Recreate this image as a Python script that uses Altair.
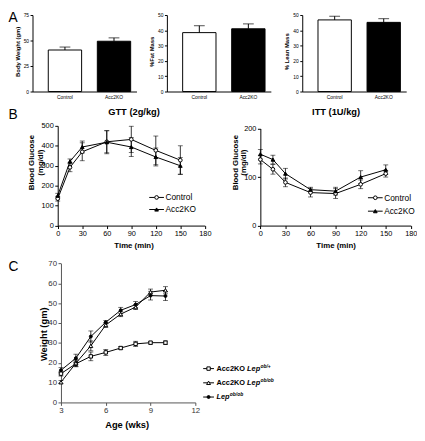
import altair as alt
import pandas as pd

# ---------------- data ----------------
A_GROUPS = ["Control", "Acc2KO"]
BODY_WEIGHT = [40.7, 49.3]
BODY_WEIGHT_SEM = [2.9, 3.3]
FAT_MASS = [38.5, 41.0]
FAT_MASS_SEM = [4.5, 3.2]
LEAN_MASS = [46.8, 45.2]
LEAN_MASS_SEM = [2.4, 2.4]

B_SERIES = ["Control", "Acc2KO"]
GTT_TIME = [0, 15, 30, 60, 90, 120, 150]
GTT_CONTROL = [135, 292, 370, 420, 432, 377, 328]
GTT_CONTROL_SEM = [12, 22, 45, 55, 66, 72, 72]
GTT_ACC2KO = [150, 322, 394, 418, 394, 344, 300]
GTT_ACC2KO_SEM = [12, 12, 30, 58, 48, 45, 42]

ITT_TIME = [0, 15, 30, 60, 90, 120, 150]
ITT_CONTROL = [136, 116, 89, 68, 66, 85, 107]
ITT_CONTROL_SEM = [9, 10, 9, 9, 10, 9, 7]
ITT_ACC2KO = [147, 136, 107, 74, 71, 100, 115]
ITT_ACC2KO_SEM = [10, 9, 11, 5, 8, 13, 10]

C_SERIES = ["Acc2KO Lep ob/+", "Acc2KO Lep ob/ob", "Lep ob/ob"]
C_PREFIX = ["Acc2KO ", "Acc2KO ", ""]
C_ITALIC = ["Lep", "Lep", "Lep"]
C_SUPER = ["ob/+", "ob/ob", "ob/ob"]
AGE_WKS = [3, 4, 5, 6, 7, 8, 9, 10]
C_KO_OBPLUS = [14.5, 19.5, 23.2, 25.2, 27.4, 29.5, 30.1, 30.1]
C_KO_OBPLUS_SEM = [1.2, 1.5, 2.2, 1.5, 0.8, 1.3, 0.7, 0.9]
C_KO_OBOB = [10.2, 19.8, 28.5, 39.0, 44.5, 48.0, 55.6, 56.5]
C_KO_OBOB_SEM = [0.8, 1.8, 2.5, 1.2, 1.3, 1.2, 1.5, 1.8]
C_OBOB = [16.2, 22.3, 33.2, 40.4, 46.4, 49.3, 53.8, 53.6]
C_OBOB_SEM = [1.3, 2.0, 2.8, 0.8, 1.5, 1.5, 2.2, 2.3]

PANEL_LETTERS = ["A", "B", "C"]
GTT_TITLE = "GTT (2g/kg)"
ITT_TITLE = "ITT (1U/kg)"

# ---------------- layout helpers ----------------
FONT = "Liberation Sans"
W, H = 417, 425


def cx(v):
    return v - 8


def ay(v):
    return v - 3


def by(v):
    return v - 8


def cy(v):
    return v - 11


def bar_panel(values, sems, ymax, ticks, title, x0, x1, tdx):
    df = pd.DataFrame({"group": A_GROUPS, "value": values, "sem": sems})
    df["hi"] = df["value"] + df["sem"]
    yr = [ay(84), ay(6)]
    xs = alt.Scale(domain=A_GROUPS, range=[cx(x0), cx(x1)], paddingInner=0.32,
                   paddingOuter=0.22, align=0.73)
    ys = alt.Scale(domain=[0, ymax], range=yr, nice=False, zero=True)
    xaxis = alt.Axis(orient="bottom", offset=yr[0] - H, title=None, ticks=False,
                     labelFontSize=5, labelPadding=3, labelAngle=0,
                     labelFlush=False, labelOverlap=False)
    yaxis = alt.Axis(orient="left", offset=-cx(x0), values=ticks, title=title,
                     labelFontSize=5, tickSize=2.5, labelPadding=1.5,
                     labelFlush=False, labelOverlap=False,
                     titleFontSize=6, titleFontWeight="bold", titleAngle=270,
                     titleAlign="center", titleBaseline="middle",
                     titleX=tdx, titleY=(yr[0] + yr[1]) / 2 - 2)
    base = alt.Chart(df)
    xenc = alt.X("group:N", scale=xs, sort=A_GROUPS, axis=xaxis)
    bars = base.mark_bar(stroke="black", strokeWidth=1).encode(
        x=xenc,
        y=alt.Y("value:Q", scale=ys, axis=yaxis),
        fill=alt.Fill("group:N", scale=alt.Scale(domain=A_GROUPS, range=["white", "black"]),
                      legend=None),
    )
    err = base.mark_rule(color="black", strokeWidth=1).encode(
        x=xenc, y=alt.Y("value:Q", scale=ys, axis=yaxis), y2="hi:Q")
    cap = base.mark_tick(color="black", thickness=1, size=11, orient="horizontal").encode(
        x=xenc, y=alt.Y("hi:Q", scale=ys, axis=yaxis))
    return alt.layer(bars, err, cap)


def line_panel(xs_data, series, vals, sems, xdom, xticks, ydom, yticks,
               xr, yr, ytitle, ytx, yty, xtitle, xtx, xty, markers,
               label_size=7.5, title_size=8, axis_color="black", label_color="black"):
    rows = []
    for s, v, e in zip(series, vals, sems):
        for t, vv, ee in zip(xs_data, v, e):
            rows.append({"t": t, "series": s, "v": vv, "lo": vv - ee, "hi": vv + ee})
    df = pd.DataFrame(rows)
    xs = alt.Scale(domain=xdom, range=xr, nice=False, zero=False)
    ys = alt.Scale(domain=ydom, range=yr, nice=False, zero=False)
    xaxis = alt.Axis(orient="bottom", offset=yr[0] - H, values=xticks, title=xtitle,
                     labelFontSize=label_size, tickSize=3, labelPadding=1.5,
                     labelFlush=False, labelOverlap=False,
                     domainColor=axis_color, tickColor=axis_color, labelColor=label_color,
                     titleFontSize=title_size, titleFontWeight="bold",
                     titleAlign="center", titleBaseline="middle",
                     titleX=xtx, titleY=xty)
    yaxis = alt.Axis(orient="left", offset=-xr[0], values=yticks, title=ytitle,
                     labelFontSize=label_size, tickSize=3, labelPadding=1.5,
                     labelFlush=False, labelOverlap=False,
                     domainColor=axis_color, tickColor=axis_color, labelColor=label_color,
                     titleFontSize=title_size, titleFontWeight="bold", titleAngle=270,
                     titleAlign="center", titleBaseline="middle", titleLineHeight=title_size + 1,
                     titleX=ytx, titleY=yty)
    base = alt.Chart(df)
    xn = alt.X("t:Q", scale=xs, axis=xaxis)
    line = base.mark_line(color="black", strokeWidth=1).encode(
        x=xn, y=alt.Y("v:Q", scale=ys, axis=yaxis), detail="series:N")
    err = base.mark_rule(color="black", strokeWidth=0.8).encode(
        x=xn, y=alt.Y("lo:Q", scale=ys, axis=yaxis), y2="hi:Q")
    cap_lo = base.mark_tick(color="black", thickness=0.8, size=5, orient="horizontal").encode(
        x=xn, y=alt.Y("lo:Q", scale=ys, axis=yaxis))
    cap_hi = base.mark_tick(color="black", thickness=0.8, size=5, orient="horizontal").encode(
        x=xn, y=alt.Y("hi:Q", scale=ys, axis=yaxis))
    layers = [line, err, cap_lo, cap_hi]
    for s in series:
        m = markers[s]
        layers.append(
            base.transform_filter(alt.datum.series == s).mark_point(
                shape=m["shape"], filled=True, fill=m["fill"], stroke="black",
                strokeWidth=1, size=m["size"], opacity=1).encode(
                x=xn, y=alt.Y("v:Q", scale=ys, axis=yaxis)))
    return alt.layer(*layers)


def b_legend(series, ypos, xl0, xl1, xt, markers, fsize=8.5):
    df = pd.DataFrame({"series": series})
    ysc = alt.Scale(type="point", domain=series, range=ypos, padding=0)
    yenc = alt.Y("series:N", scale=ysc, axis=None)
    layers = [
        alt.Chart(df).mark_rule(color="black", strokeWidth=1).encode(
            x=alt.value(xl0), x2=alt.value(xl1), y=yenc),
        alt.Chart(df).mark_text(align="left", baseline="middle", fontSize=fsize).encode(
            x=alt.value(xt), y=yenc, text="series:N"),
    ]
    for s in series:
        m = markers[s]
        layers.append(
            alt.Chart(df).transform_filter(alt.datum.series == s).mark_point(
                shape=m["shape"], filled=True, fill=m["fill"], stroke="black",
                strokeWidth=1, size=m["size"], opacity=1).encode(
                x=alt.value((xl0 + xl1) / 2), y=yenc))
    return alt.layer(*layers)


B_MARKERS = {
    "Control": {"shape": "circle", "fill": "white", "size": 14},
    "Acc2KO": {"shape": "triangle-up", "fill": "black", "size": 14},
}
C_MARKERS = {
    C_SERIES[0]: {"shape": "square", "fill": "white", "size": 12},
    C_SERIES[1]: {"shape": "triangle-up", "fill": "white", "size": 16},
    C_SERIES[2]: {"shape": "circle", "fill": "black", "size": 9},
}

# ---------------- panel A ----------------
a1 = bar_panel(BODY_WEIGHT, BODY_WEIGHT_SEM, 75, [0, 25, 50, 75], "Body Weight (gm)", 33, 139, -15)
a2 = bar_panel(FAT_MASS, FAT_MASS_SEM, 50, [0, 10, 20, 30, 40, 50], "%Fat Mass", 170, 276, -16)
a3 = bar_panel(LEAN_MASS, LEAN_MASS_SEM, 50, [0, 10, 20, 30, 40, 50], "% Lean Mass", 308, 414, -16)

# ---------------- panel B ----------------
GLU_TITLE = ["Blood Glucose", "(mg/dl)"]
gtt = line_panel(GTT_TIME, B_SERIES, [GTT_CONTROL, GTT_ACC2KO], [GTT_CONTROL_SEM, GTT_ACC2KO_SEM],
                 [0, 180], [0, 30, 60, 90, 120, 150, 180], [0, 500], [0, 100, 200, 300, 400, 500],
                 [cx(58.7), cx(208.7)], [by(225.7), by(124)],
                 GLU_TITLE, cx(32.5) - cx(58.7), by(161),
                 "Time (min)", cx(136), by(246) - by(225.7), B_MARKERS)
itt = line_panel(ITT_TIME, B_SERIES, [ITT_CONTROL, ITT_ACC2KO], [ITT_CONTROL_SEM, ITT_ACC2KO_SEM],
                 [0, 180], [0, 30, 60, 90, 120, 150, 180], [0, 200], [0, 100, 200],
                 [cx(265.3), cx(418.7)], [by(225.7), by(126.7)],
                 GLU_TITLE, cx(239.5) - cx(265.3), by(161),
                 "Time (min)", cx(342), by(246) - by(225.7), B_MARKERS)
gtt_leg = b_legend(B_SERIES, [by(197), by(209.3)], cx(152), cx(167), cx(168.5), B_MARKERS)
itt_leg = b_legend(B_SERIES, [by(197.3), by(211)], cx(375), cx(390), cx(391.5), B_MARKERS)

titles_df = pd.DataFrame({"title": [GTT_TITLE, ITT_TITLE]})
gtt_title = alt.Chart(titles_df).transform_filter(alt.datum.title == GTT_TITLE).mark_text(
    fontSize=9.5, fontWeight="bold", align="center", baseline="middle").encode(
    text="title:N", x=alt.value(cx(136.5)), y=alt.value(by(110)))
itt_title = alt.Chart(titles_df).transform_filter(alt.datum.title == ITT_TITLE).mark_text(
    fontSize=9.5, fontWeight="bold", align="center", baseline="middle").encode(
    text="title:N", x=alt.value(cx(342.5)), y=alt.value(by(110)))

# ---------------- panel C ----------------
c_panel = line_panel(AGE_WKS, C_SERIES, [C_KO_OBPLUS, C_KO_OBOB, C_OBOB],
                     [C_KO_OBPLUS_SEM, C_KO_OBOB_SEM, C_OBOB_SEM],
                     [3, 12], [3, 6, 9, 12], [0, 70], [0, 10, 20, 30, 40, 50, 60, 70],
                     [cx(62), cx(199)], [cy(409), cy(267.3)],
                     "Weight (gm)", cx(44) - cx(62), cy(339),
                     "Age (wks)", cx(129), cy(432) - cy(409), C_MARKERS,
                     label_size=8, title_size=9.5, axis_color="#555555", label_color="#333333")

c_df = pd.DataFrame({"series": C_SERIES, "prefix": C_PREFIX, "ital": C_ITALIC, "sup": C_SUPER})
c_ys = alt.Scale(type="point", domain=C_SERIES, range=[cy(374.5), cy(403.5)], padding=0)
c_yenc = alt.Y("series:N", scale=c_ys, axis=None)
C_LX0, C_LX1, C_TX = cx(207), cx(218), cx(220.5)
LEG_FS = 7.5
SUP_FS = 5
PREFIX_W = 29.2 * LEG_FS / 7
LEP_W = 12.4 * LEG_FS / 7
c_leg_layers = [
    alt.Chart(c_df).mark_rule(color="black", strokeWidth=1).encode(
        x=alt.value(C_LX0), x2=alt.value(C_LX1), y=c_yenc),
    alt.Chart(c_df).transform_filter(alt.datum.prefix != "").mark_text(
        align="left", baseline="middle", fontSize=LEG_FS, fontWeight="bold").encode(
        x=alt.value(C_TX), y=c_yenc, text="prefix:N"),
    alt.Chart(c_df).transform_filter(alt.datum.prefix != "").mark_text(
        align="left", baseline="middle", fontSize=LEG_FS, fontWeight="bold", fontStyle="italic").encode(
        x=alt.value(C_TX + PREFIX_W), y=c_yenc, text="ital:N"),
    alt.Chart(c_df).transform_filter(alt.datum.prefix != "").mark_text(
        align="left", baseline="middle", fontSize=SUP_FS, fontWeight="bold", fontStyle="italic", dy=-2.8).encode(
        x=alt.value(C_TX + PREFIX_W + LEP_W + 0.4), y=c_yenc, text="sup:N"),
    alt.Chart(c_df).transform_filter(alt.datum.prefix == "").mark_text(
        align="left", baseline="middle", fontSize=LEG_FS, fontWeight="bold", fontStyle="italic").encode(
        x=alt.value(C_TX), y=c_yenc, text="ital:N"),
    alt.Chart(c_df).transform_filter(alt.datum.prefix == "").mark_text(
        align="left", baseline="middle", fontSize=SUP_FS, fontWeight="bold", fontStyle="italic", dy=-2.8).encode(
        x=alt.value(C_TX + LEP_W + 0.4), y=c_yenc, text="sup:N"),
]
for s in C_SERIES:
    m = C_MARKERS[s]
    c_leg_layers.append(
        alt.Chart(c_df).transform_filter(alt.datum.series == s).mark_point(
            shape=m["shape"], filled=True, fill=m["fill"], stroke="black",
            strokeWidth=1, size=m["size"], opacity=1).encode(
            x=alt.value((C_LX0 + C_LX1) / 2), y=c_yenc))
c_leg = alt.layer(*c_leg_layers)

# ---------------- panel letters ----------------
letters_df = pd.DataFrame({"letter": PANEL_LETTERS})
letter_pos = {"A": ay(13.5), "B": by(117.5), "C": cy(275)}
letter_layers = [
    alt.Chart(letters_df).transform_filter(alt.datum.letter == k).mark_text(
        fontSize=14, align="left", baseline="alphabetic").encode(
        text="letter:N", x=alt.value(0.5), y=alt.value(v))
    for k, v in letter_pos.items()
]

chart = alt.layer(
    a1, a2, a3, gtt, itt, gtt_leg, itt_leg, gtt_title, itt_title, c_panel, c_leg, *letter_layers
).resolve_scale(x="independent", y="independent").properties(
    width=W, height=H, autosize=alt.AutoSizeParams(type="none"), padding=0, background="white"
).configure_view(stroke=None).configure_axis(
    grid=False, labelFont=FONT, titleFont=FONT, domainColor="black", tickColor="black",
    labelColor="black", titleColor="black", domainWidth=1, tickWidth=1
).configure_text(font=FONT, color="black")

chart.save("out.html", embed_options={"renderer": "svg", "actions": False})
